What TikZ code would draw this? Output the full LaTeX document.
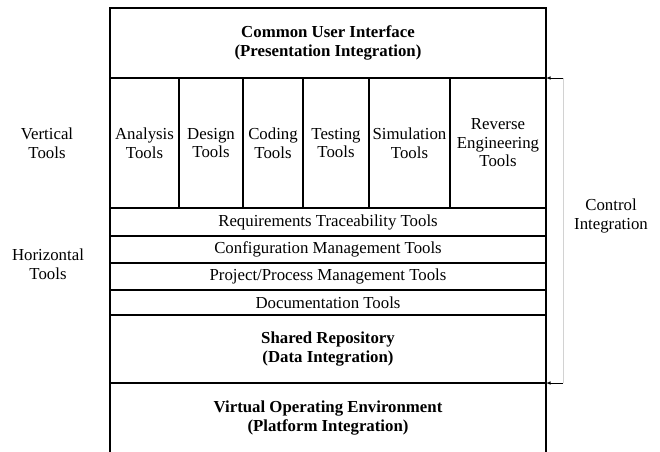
\documentclass[tikz,border=0pt]{standalone}
\usepackage{fontspec}
\setmainfont{Liberation Serif}
\usetikzlibrary{arrows,positioning}
\tikzset{layer/.style={
            draw,
            line width=1.8pt,
            inner sep=0pt,
            outer sep=0pt,
            minimum width=436pt,
            anchor=north west,
            align=center,
            font=\fontsize{16.8}{19}\selectfont\bfseries
        },
        strip/.style={
            layer,
            font=\fontsize{16.8}{19}\selectfont
        },
        toolbox/.style={
            draw,
            line width=1.5pt,
            inner sep=0pt,
            outer sep=0pt,
            minimum height=130pt,
            anchor=north west,
            align=center,
            font=\fontsize{16.8}{18.5}\selectfont
        },
        sidelabel/.style={
            align=center,
            font=\fontsize{16.8}{18.5}\selectfont
        },
        ctrl/.style={
            >=latex,
            line width=0.6pt
        }
    }
\begin{document}
\begin{tikzpicture}[x=1pt,y=-1pt]
        \useasboundingbox (0,0) rectangle (660,451);

        % layers of the environment
        \node[layer,minimum height=70pt] at (110,8) (cui) {Common User Interface\\(Presentation Integration)};

        \node[toolbox,minimum width=69pt] at (110,78) (analysis) {Analysis\\Tools};
        \node[toolbox,minimum width=64pt] at (179,78) (design) {Design\\Tools};
        \node[toolbox,minimum width=60pt] at (243,78) (coding) {Coding\\Tools};
        \node[toolbox,minimum width=66pt] at (303,78) (testing) {Testing\\Tools};
        \node[toolbox,minimum width=81pt] at (369,78) (simulation) {Simulation\\Tools};
        \node[toolbox,minimum width=96pt] at (450,78) (reverse) {Reverse\\Engineering\\Tools};

        \node[strip,minimum height=28pt] at (110,208) (reqs) {Requirements Traceability Tools};
        \node[strip,minimum height=27pt] at (110,236) (config) {Configuration Management Tools};
        \node[strip,minimum height=27pt] at (110,263) (project) {Project/Process Management Tools};
        \node[strip,minimum height=25pt] at (110,290) (docs) {Documentation Tools};

        \node[layer,minimum height=68pt] at (110,315) (repo) {Shared Repository\\(Data Integration)};
        \node[layer,minimum height=70pt] at (110,383) (vos) {Virtual Operating Environment\\(Platform Integration)};

        % side labels
        \node[sidelabel] at (47,143) (vlabel) {Vertical\\Tools};
        \node[sidelabel] at (48,264) (hlabel) {Horizontal\\Tools};
        \node[sidelabel] at (611,216) (clabel) {Control\\Integration};

        % control integration bracket
        \coordinate (ctop) at (563,78);
        \coordinate (cbot) at (563,383);
        \draw[gray!35,line width=0.6pt] (ctop) -- (cbot);
        \draw[ctrl,->] (ctop) -- (cui.south east);
        \draw[ctrl,->] (cbot) -- (repo.south east);

    \end{tikzpicture}
\end{document}
